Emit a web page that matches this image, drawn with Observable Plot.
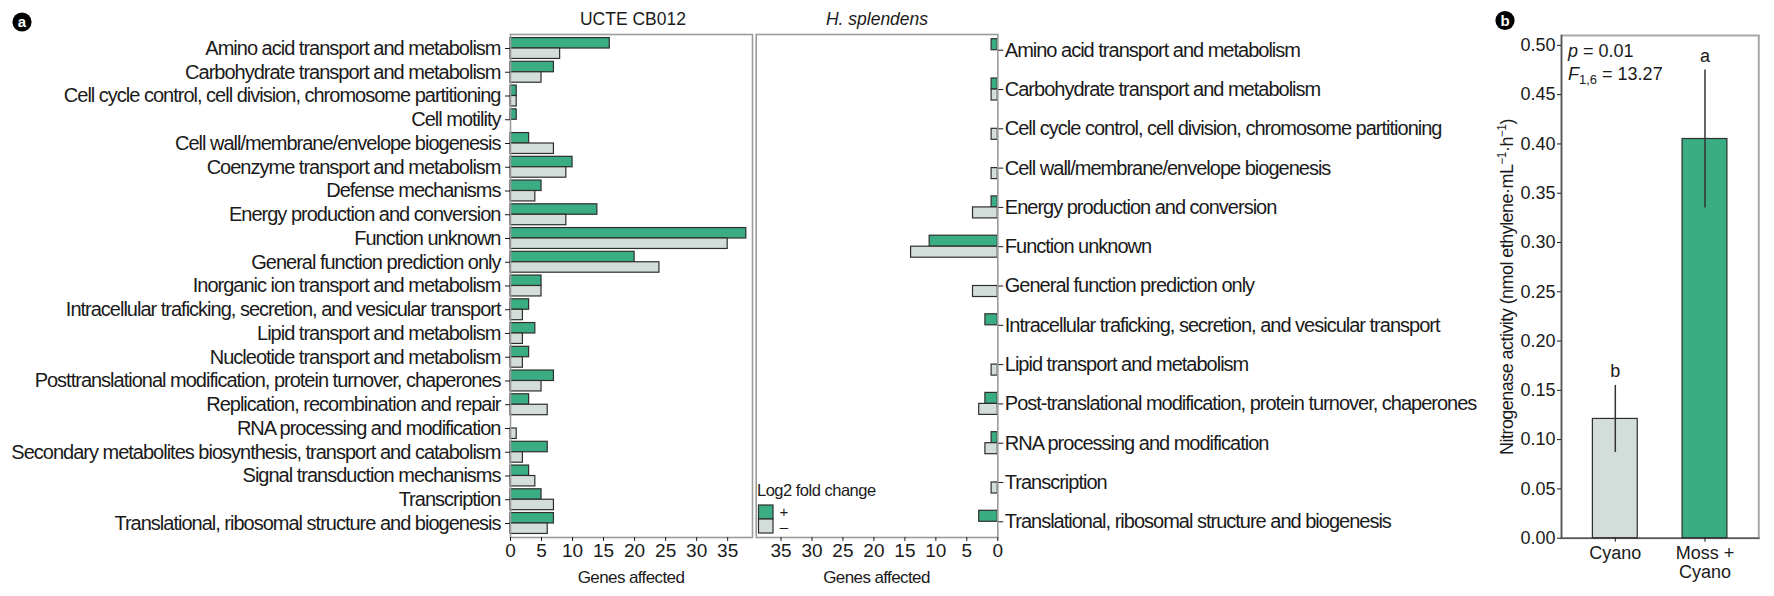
<!DOCTYPE html>
<html><head><meta charset="utf-8">
<script src="https://cdn.jsdelivr.net/npm/d3@7"></script>
<script src="https://cdn.jsdelivr.net/npm/@observablehq/plot@0.6"></script>
<style>
body{margin:0;background:#fff;}
#root{position:relative;width:1774px;height:596px;font-family:"Liberation Sans",Arial,sans-serif;color:#1a1a1a;overflow:hidden;background:#fff}
.panel{position:absolute;top:0}
.panel svg{display:block;max-width:none!important;overflow:visible}
.cat-axis g[aria-label="y-axis tick label"]{letter-spacing:-1px}
</style></head><body><div id="root"></div>
<script>
// ---------- data ----------
const cbCategories = [
  "Amino acid transport and metabolism",
  "Carbohydrate transport and metabolism",
  "Cell cycle control, cell division, chromosome partitioning",
  "Cell motility",
  "Cell wall/membrane/envelope biogenesis",
  "Coenzyme transport and metabolism",
  "Defense mechanisms",
  "Energy production and conversion",
  "Function unknown",
  "General function prediction only",
  "Inorganic ion transport and metabolism",
  "Intracellular traficking, secretion, and vesicular transport",
  "Lipid transport and metabolism",
  "Nucleotide transport and metabolism",
  "Posttranslational modification, protein turnover, chaperones",
  "Replication, recombination and repair",
  "RNA processing and modification",
  "Secondary metabolites biosynthesis, transport and catabolism",
  "Signal transduction mechanisms",
  "Transcription",
  "Translational, ribosomal structure and biogenesis"
];
const cbUp   = [16, 7, 1, 1, 3, 10, 5, 14, 38, 20, 5, 3, 4, 3, 7, 3, 0, 6, 3, 5, 7];
const cbDown = [ 8, 5, 1, 0, 7,  9, 4,  9, 35, 24, 5, 2, 2, 2, 5, 6, 1, 2, 4, 7, 6];

const hsCategories = [
  "Amino acid transport and metabolism",
  "Carbohydrate transport and metabolism",
  "Cell cycle control, cell division, chromosome partitioning",
  "Cell wall/membrane/envelope biogenesis",
  "Energy production and conversion",
  "Function unknown",
  "General function prediction only",
  "Intracellular traficking, secretion, and vesicular transport",
  "Lipid transport and metabolism",
  "Post-translational modification, protein turnover, chaperones",
  "RNA processing and modification",
  "Transcription",
  "Translational, ribosomal structure and biogenesis"
];
const hsUp   = [1, 1, 0, 0, 1, 11, 0, 2, 0, 2, 1, 0, 3];
const hsDown = [0, 1, 1, 1, 4, 14, 4, 0, 1, 3, 2, 1, 0];

const geneTicks = [0, 5, 10, 15, 20, 25, 30, 35];

const nitroGroups  = ["Cyano", "Moss +\nCyano"];
const nitroMean    = [0.121, 0.405];
const nitroLow     = [0.087, 0.335];
const nitroHigh    = [0.155, 0.475];
const nitroLetters = ["b", "a"];
const nitroTicks   = [0, 0.05, 0.10, 0.15, 0.20, 0.25, 0.30, 0.35, 0.40, 0.45, 0.50];

// ---------- style ----------
const GREEN = "#3aad83", GRAY = "#d3ddd9", EDGE = "#2e2e2e", FRAME = "#9c9c9c";
const FONT = '"Liberation Sans", Arial, sans-serif';
const H = 596, MT = 34, MB = 59;
const root = document.getElementById("root");

function bandwidth(n, pi, po) {
  const step = (H - MT - MB) / (n - pi + 2 * po);
  return step * (1 - pi);
}
function place(node, left, cls) {
  const d = document.createElement("div");
  d.className = "panel " + (cls || "");
  d.style.left = left + "px";
  d.appendChild(node);
  root.appendChild(d);
}

// ---------- panel a, left: UCTE CB012 ----------
const cbRows = cbCategories.map((c, i) => ({cat: c, up: cbUp[i], down: cbDown[i]}));
const bwL = bandwidth(cbCategories.length, 0.12, 0.15);
const leftPlot = Plot.plot({
  width: 760, height: H, marginLeft: 510, marginRight: 8, marginTop: MT, marginBottom: MB,
  style: {fontFamily: FONT, fontSize: "19px", color: "#1a1a1a", background: "transparent"},
  x: {domain: [0, 39]},
  y: {domain: cbCategories, paddingInner: 0.12, paddingOuter: 0.15, round: false},
  marks: [
    Plot.barX(cbRows.filter(d => d.up > 0), {x: "up", y: "cat", insetBottom: bwL / 2, fill: GREEN, stroke: EDGE, strokeWidth: 1.2}),
    Plot.barX(cbRows.filter(d => d.down > 0), {x: "down", y: "cat", insetTop: bwL / 2, fill: GRAY, stroke: EDGE, strokeWidth: 1.2}),
    Plot.frame({stroke: FRAME, strokeWidth: 1.6}),
    Plot.axisX({ticks: geneTicks, tickSize: 4, tickPadding: 2, label: null, fontSize: 19}),
    Plot.axisY({tickSize: 5, tickPadding: 5, label: null, fontSize: 20})
  ]
});
place(leftPlot, 0, "cat-axis");

// ---------- panel a, right: H. splendens ----------
const hsRows = hsCategories.map((c, i) => ({cat: c, up: hsUp[i], down: hsDown[i]}));
const bwM = bandwidth(hsCategories.length, 0.44, 0.12);
const midLeft = 745, midWidth = 720;
const midPlot = Plot.plot({
  width: midWidth, height: H, marginLeft: 10.7, marginRight: midWidth - (997.3 - midLeft), marginTop: MT, marginBottom: MB,
  style: {fontFamily: FONT, fontSize: "19px", color: "#1a1a1a", background: "transparent"},
  x: {domain: [0, 39], reverse: true},
  y: {domain: hsCategories, paddingInner: 0.44, paddingOuter: 0.12, round: false},
  marks: [
    Plot.barX(hsRows.filter(d => d.up > 0), {x: "up", y: "cat", insetBottom: bwM / 2, fill: GREEN, stroke: EDGE, strokeWidth: 1.2}),
    Plot.barX(hsRows.filter(d => d.down > 0), {x: "down", y: "cat", insetTop: bwM / 2, fill: GRAY, stroke: EDGE, strokeWidth: 1.2}),
    Plot.frame({stroke: FRAME, strokeWidth: 1.6}),
    Plot.axisX({ticks: geneTicks, tickSize: 4, tickPadding: 2, label: null, fontSize: 19}),
    Plot.axisY({anchor: "right", tickSize: 5, tickPadding: 2, label: null, fontSize: 20})
  ]
});
place(midPlot, midLeft, "cat-axis");

// ---------- panel b: nitrogenase ----------
const nitroRows = nitroGroups.map((g, i) => ({group: g, mean: nitroMean[i], lo: nitroLow[i], hi: nitroHigh[i], letter: nitroLetters[i]}));
const rightLeft = 1440;
const rightPlot = Plot.plot({
  width: 334, height: H, marginLeft: 121, marginRight: 15.7, marginTop: 35, marginBottom: 58.3,
  style: {fontFamily: FONT, fontSize: "18px", color: "#1a1a1a", background: "transparent"},
  x: {domain: nitroGroups, paddingInner: 0.5, paddingOuter: 0.35, round: false},
  y: {domain: [0, 0.51]},
  color: {domain: nitroGroups, range: [GRAY, GREEN]},
  marks: [
    Plot.frame({stroke: "#a8a8a8", strokeWidth: 2}),
    Plot.frame({anchor: "left", stroke: "#555", strokeWidth: 1.5}),
    Plot.frame({anchor: "bottom", stroke: "#555", strokeWidth: 1.5}),
    Plot.barY(nitroRows, {x: "group", y: "mean", fill: "group", stroke: EDGE, strokeWidth: 1.2}),
    Plot.ruleX(nitroRows, {x: "group", y1: "lo", y2: "hi", stroke: "#333", strokeWidth: 1.5}),
    Plot.text(nitroRows, {x: "group", y: "hi", text: "letter", dy: -14, fontSize: 18, fill: "#1a1a1a"}),
    Plot.axisX({tickSize: 4, tickPadding: 3, label: null, fontSize: 18, lineHeight: 1.05}),
    Plot.axisY({ticks: nitroTicks, tickFormat: d3.format(".2f"), tickSize: 4, tickPadding: 2, label: null, fontSize: 18})
  ]
});
place(rightPlot, rightLeft);

// ---------- overlay text ----------
const ov = d3.select(root).append("svg")
  .attr("width", 1774).attr("height", 596)
  .style("position", "absolute").style("left", 0).style("top", 0)
  .style("pointer-events", "none")
  .style("font-family", FONT).style("fill", "#1a1a1a");

function badge(cx, cy, letter) {
  ov.append("circle").attr("cx", cx).attr("cy", cy).attr("r", 9.6).attr("fill", "#000");
  ov.append("text").attr("x", cx).attr("y", cy + 5).attr("text-anchor", "middle")
    .attr("font-size", 15).attr("font-weight", "bold").attr("fill", "#fff").text(letter);
}
badge(22, 22, "a");
badge(1505, 20.5, "b");

ov.append("text").attr("x", 633).attr("y", 25).attr("text-anchor", "middle").attr("font-size", 17.5).text("UCTE CB012");
ov.append("text").attr("x", 877).attr("y", 25).attr("text-anchor", "middle").attr("font-size", 17.5).attr("font-style", "italic").text("H. splendens");
[631, 876.5].forEach(x => ov.append("text").attr("x", x).attr("y", 582.5).attr("text-anchor", "middle")
  .attr("font-size", 17).attr("letter-spacing", "-0.6px").text("Genes affected"));

// legend
ov.append("text").attr("x", 757).attr("y", 496).attr("font-size", 16.5).attr("letter-spacing", "-0.5px").text("Log2 fold change");
ov.append("rect").attr("x", 758.5).attr("y", 505).attr("width", 14.5).attr("height", 14).attr("fill", GREEN).attr("stroke", EDGE).attr("stroke-width", 1.2);
ov.append("rect").attr("x", 758.5).attr("y", 519).attr("width", 14.5).attr("height", 14).attr("fill", GRAY).attr("stroke", EDGE).attr("stroke-width", 1.2);
const sign = ov.append("text").attr("text-anchor", "middle").attr("font-size", 15);
sign.append("tspan").attr("x", 784).attr("y", 516.5).text("+");
sign.append("tspan").attr("x", 784).attr("y", 532).text("\u2013");

// stats annotation
const t1 = ov.append("text").attr("x", 1568).attr("y", 57).attr("font-size", 18);
t1.append("tspan").attr("font-style", "italic").text("p");
t1.append("tspan").text(" = 0.01");
const t2 = ov.append("text").attr("x", 1568).attr("y", 80).attr("font-size", 18);
t2.append("tspan").attr("font-style", "italic").text("F");
t2.append("tspan").attr("font-size", 13).attr("dy", 4).text("1,6");
t2.append("tspan").attr("dy", -4).text(" = 13.27");

// y label
const yl = ov.append("text").attr("transform", "translate(1513,287) rotate(-90)").attr("text-anchor", "middle").attr("font-size", 18).attr("letter-spacing", "-0.55px");
yl.append("tspan").text("Nitrogenase activity (nmol ethylene\u00b7mL");
yl.append("tspan").attr("font-size", 12).attr("dy", -7).text("\u22121");
yl.append("tspan").attr("dy", 7).text("\u00b7h");
yl.append("tspan").attr("font-size", 12).attr("dy", -7).text("\u22121");
yl.append("tspan").attr("dy", 7).text(")");
</script></body></html>
